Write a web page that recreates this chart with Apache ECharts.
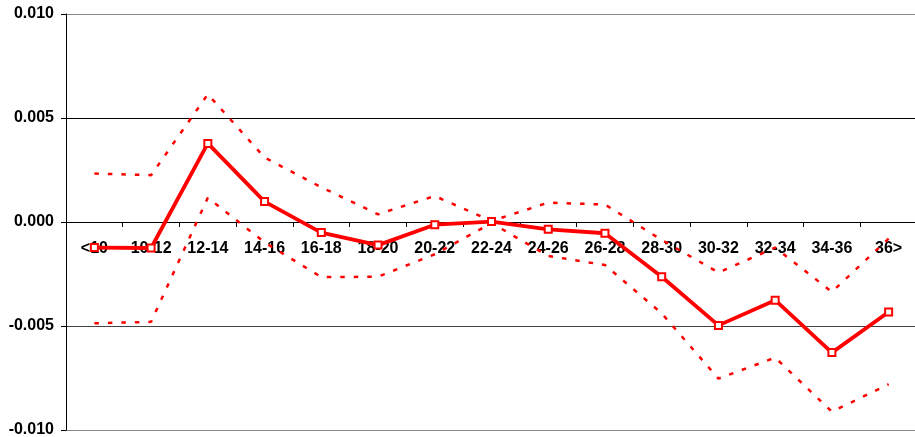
<!DOCTYPE html>
<html>
<head>
<meta charset="utf-8">
<script src="https://cdn.jsdelivr.net/npm/echarts@6/dist/echarts.min.js"></script>
<style>
  html, body { margin: 0; padding: 0; background: #fff; }
  #chart { width: 915px; height: 437px; }
</style>
</head>
<body>
<div id="chart"></div>
<script>
// Size bands along the x axis
const categories = ['<10', '10-12', '12-14', '14-16', '16-18', '18-20', '20-22', '22-24',
  '24-26', '26-28', '28-30', '30-32', '32-34', '34-36', '36>'];

// Point estimate per band (solid line with square markers)
const estimate = [-0.00123, -0.00125, 0.00378, 0.00098, -0.00051, -0.00111, -0.00013, 0.00002,
  -0.00035, -0.00054, -0.00263, -0.00497, -0.00376, -0.00628, -0.00433];

// Upper and lower confidence bounds (dotted lines)
const upperBound = [0.00233, 0.00225, 0.00614, 0.00310, 0.00167, 0.00037, 0.00125, 0.00005,
  0.00093, 0.00084, -0.00086, -0.00243, -0.00123, -0.00336, -0.00080];
const lowerBound = [-0.00487, -0.00480, 0.00117, -0.00098, -0.00265, -0.00263, -0.00155, -0.00005,
  -0.00163, -0.00207, -0.00439, -0.00753, -0.00652, -0.00912, -0.00780];

// Value axis ticks
const yTicks = { min: -0.010, max: 0.010, interval: 0.005 };

const font = "'Liberation Sans', Arial, sans-serif";
const red = '#ff0000';

// Plot box in pixels
const plot = { left: 66, right: -2, top: 14, bottom: 7, height: 416 };
// The category axis sits on the zero line, halfway up the symmetric value range
const zeroOffset = -plot.height * (0 - yTicks.min) / (yTicks.max - yTicks.min);

const chart = echarts.init(document.getElementById('chart'), null, { renderer: 'canvas' });

const dotted = (name, data) => ({
  name,
  type: 'line',
  data,
  symbol: 'none',
  silent: true,
  animation: false,
  lineStyle: { color: red, width: 2.5, type: [4.5, 9] },
  z: 2
});

chart.setOption({
  animation: false,
  backgroundColor: '#ffffff',
  grid: {
    left: plot.left, right: plot.right, top: plot.top, bottom: plot.bottom,
    containLabel: false, outerBoundsMode: 'none'
  },
  xAxis: {
    type: 'category',
    data: categories,
    boundaryGap: true,
    position: 'bottom',
    offset: zeroOffset,
    axisLine: { onZero: false, lineStyle: { color: '#000', width: 1 } },
    axisTick: { show: true, inside: false, length: 5, alignWithLabel: false, lineStyle: { color: '#000' } },
    axisLabel: {
      interval: 0,
      margin: 19,
      color: '#000',
      fontFamily: font,
      fontWeight: 'bold',
      fontSize: 16
    },
    splitLine: { show: false }
  },
  yAxis: {
    type: 'value',
    min: yTicks.min,
    max: yTicks.max,
    interval: yTicks.interval,
    axisLine: { show: true, lineStyle: { color: '#000', width: 1 } },
    axisTick: { show: true, length: 5, lineStyle: { color: '#000' } },
    axisLabel: {
      margin: 12,
      color: '#000',
      fontFamily: font,
      fontWeight: 'bold',
      fontSize: 16,
      formatter: v => v.toFixed(3)
    },
    splitLine: {
      show: true,
      lineStyle: { color: ['#888', '#444', '#000', '#000', '#888'], width: 1 }
    }
  },
  series: [
    dotted('Upper', upperBound),
    dotted('Lower', lowerBound),
    {
      name: 'Estimate',
      type: 'line',
      data: estimate,
      symbol: 'emptyRect',
      symbolSize: 7,
      showAllSymbol: true,
      lineStyle: { color: red, width: 3.8 },
      itemStyle: { color: red, borderColor: red, borderWidth: 1 },
      z: 3
    }
  ]
});
</script>
</body>
</html>
